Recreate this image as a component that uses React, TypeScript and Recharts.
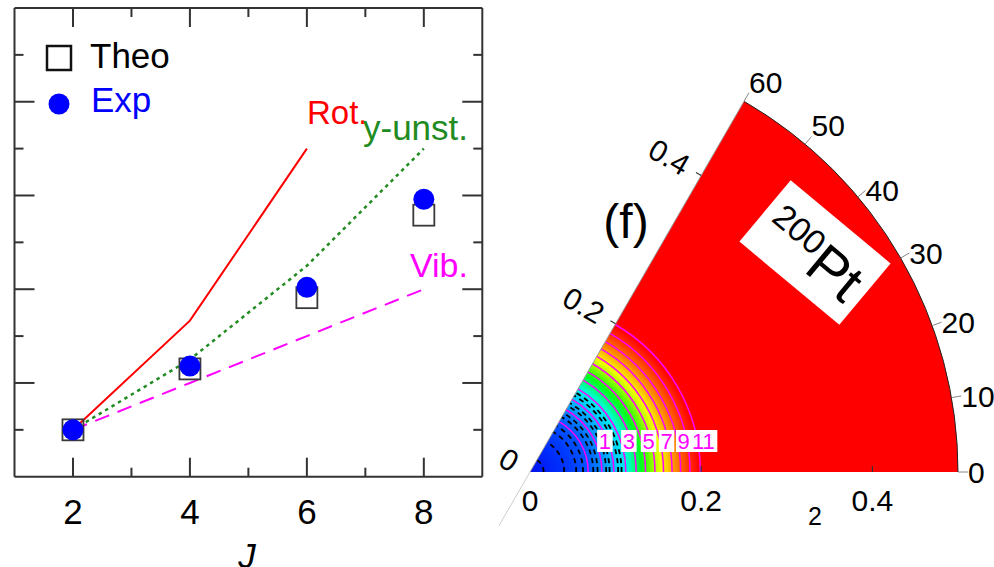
import React from 'react';
import {
  ComposedChart, Line, Scatter, XAxis, YAxis, ReferenceLine,
  RadialBarChart, RadialBar, PolarAngleAxis, PolarRadiusAxis,
} from 'recharts';

// left panel: E(J)/E(2+) ratios
const spins = [2, 4, 6, 8];
const expRatio = [1, 2.36, 4.04, 5.92];
const theoRatio = [1, 2.3, 3.82, 5.58];
const rotRatio = [1, 3.33, 7];
const gammaUnstRatio = [1, 2.5, 4.5, 7];
const vibRatio = [1, 2, 3, 4];
const jTicks = [2, 3, 4, 5, 6, 7, 8];
const rTicks = [1, 2, 3, 4, 5, 6, 7, 8, 9];

// right panel: beta-gamma plane
const gammaMax = 60;
const gammaTicks = [0, 10, 20, 30, 40, 50, 60];
const betaMax = 0.5;
const betaTicks = [0, 0.2, 0.4];
const posContourLevel = [0, 1, 2, 3, 4, 5, 6, 7, 8, 9, 10, 11];
const posContourBeta = [0.068, 0.084, 0.098, 0.112, 0.124, 0.135, 0.146, 0.156, 0.166, 0.176, 0.187, 0.199];
const negContourBeta = [0.016, 0.04, 0.054, 0.062, 0.074, 0.079, 0.089, 0.093, 0.103, 0.107];

// colour map of the surface (beta -> colour)
const stopBeta = [0, 0.045, 0.068, 0.085, 0.1, 0.111, 0.116, 0.123, 0.13, 0.138, 0.146, 0.153, 0.16, 0.168, 0.177, 0.186, 0.196, 0.203, 0.5];
const stopColor = ['#0010f0', '#0038ff', '#0058ff', '#0090ff', '#00c8ff', '#00eef0', '#00ffc0', '#00ff70', '#00ff20', '#50ff00', '#b0ff00', '#f0ff00', '#ffd000', '#ff9800', '#ff6000', '#ff3000', '#ff0800', '#ff0000', '#ff0000'];

const FONT = '"Liberation Sans", Arial, Helvetica, sans-serif';
const FRAME = '#333';

const pts = (ys: number[]) => ys.map((R, i) => ({ J: spins[i], R }));

const bottomTick = (p: any) => {
  const major = p.payload.value % 2 === 0;
  return (
    <g>
      <line x1={p.x} x2={p.x} y1={p.y} y2={p.y - (major ? 19 : 9)} stroke={FRAME} strokeWidth={2} />
      {major && <text x={p.x} y={p.y + 47} textAnchor="middle" fontSize={35} fill="#000">{p.payload.value}</text>}
    </g>
  );
};
const topTick = (p: any) => {
  const major = p.payload.value % 2 === 0;
  return <line x1={p.x} x2={p.x} y1={p.y} y2={p.y + (major ? 19 : 9)} stroke={FRAME} strokeWidth={2} />;
};
const leftTick = (p: any) => {
  const major = p.payload.value % 2 === 0;
  return <line x1={p.x} x2={p.x + (major ? 20 : 9)} y1={p.y} y2={p.y} stroke={FRAME} strokeWidth={2} />;
};
const rightTick = (p: any) => {
  const major = p.payload.value % 2 === 0;
  return <line x1={p.x} x2={p.x - (major ? 20 : 9)} y1={p.y} y2={p.y} stroke={FRAME} strokeWidth={2} />;
};

const theoShape = (p: any) => (
  <rect x={p.cx - 10.5} y={p.cy - 10.5} width={21} height={21} fill="none" stroke="#3a3a3a" strokeWidth={1.8} />
);
const expShape = (p: any) => <circle cx={p.cx} cy={p.cy} r={10.5} fill="#0000ff" />;

function RatioChart() {
  const frame = { stroke: FRAME, strokeWidth: 2 };
  return (
    <ComposedChart width={500} height={567} margin={{ top: 7, right: 16.7, bottom: 89.3, left: 13.5 }}>
      <XAxis type="number" dataKey="J" domain={[1, 9]} ticks={jTicks} interval={0} height={1}
        tickLine={false} tickSize={0} tickMargin={0} tick={bottomTick} axisLine={frame} allowDataOverflow />
      <XAxis xAxisId="top" orientation="top" type="number" dataKey="J" domain={[1, 9]} ticks={jTicks} interval={0}
        height={1} tickLine={false} tickSize={0} tickMargin={0} tick={topTick} axisLine={frame} allowDataOverflow />
      <YAxis type="number" domain={[0, 10]} ticks={rTicks} interval={0} width={1}
        tickLine={false} tickSize={0} tickMargin={0} tick={leftTick} axisLine={frame} allowDataOverflow />
      <YAxis yAxisId="right" orientation="right" type="number" domain={[0, 10]} ticks={rTicks} interval={0} width={1}
        tickLine={false} tickSize={0} tickMargin={0} tick={rightTick} axisLine={frame} allowDataOverflow />
      <Scatter data={pts(theoRatio)} dataKey="R" shape={theoShape} isAnimationActive={false} />
      <Scatter data={pts(expRatio)} dataKey="R" shape={expShape} isAnimationActive={false} />
      <Line data={pts(rotRatio)} dataKey="R" type="linear" stroke="#ff0000" strokeWidth={2} dot={false} isAnimationActive={false} />
      <Line data={pts(gammaUnstRatio)} dataKey="R" type="linear" stroke="#228b22" strokeWidth={2.5}
        strokeDasharray="3.5 4" dot={false} isAnimationActive={false} />
      <Line data={pts(vibRatio)} dataKey="R" type="linear" stroke="#ff00ff" strokeWidth={2}
        strokeDasharray="15 9" dot={false} isAnimationActive={false} />
    </ComposedChart>
  );
}

const RAD = Math.PI / 180;
const polar = (cx: number, cy: number, r: number, a: number) => [cx + r * Math.cos(a * RAD), cy - r * Math.sin(a * RAD)];
const arcPath = (cx: number, cy: number, r: number, a0: number, a1: number) => {
  const [x0, y0] = polar(cx, cy, r, a0);
  const [x1, y1] = polar(cx, cy, r, a1);
  return `M${x0},${y0}A${r},${r} 0 0 0 ${x1},${y1}`;
};

const wedgeShape = (p: any) => {
  const { cx, cy, outerRadius, startAngle, endAngle } = p;
  const [x0, y0] = polar(cx, cy, outerRadius, startAngle);
  const [x1, y1] = polar(cx, cy, outerRadius, endAngle);
  return (
    <g>
      <defs>
        <radialGradient id="betaFill" gradientUnits="userSpaceOnUse" cx={cx} cy={cy} r={outerRadius}>
          {stopBeta.map((b, i) => <stop key={i} offset={b / betaMax} stopColor={stopColor[i]} />)}
        </radialGradient>
      </defs>
      <path d={`M${cx},${cy}L${x0},${y0}A${outerRadius},${outerRadius} 0 0 0 ${x1},${y1}Z`} fill="url(#betaFill)" />
      <path d={arcPath(cx, cy, outerRadius, startAngle, endAngle)} fill="none" stroke="#222" strokeWidth={1} />
    </g>
  );
};

function WedgeChart() {
  return (
    <RadialBarChart width={994} height={567} cx={530} cy={472} innerRadius={0} outerRadius={428}
      startAngle={0} endAngle={60} data={[{ name: 'g', gamma: gammaMax }]} barCategoryGap={0} margin={{ top: 0, right: 0, bottom: 0, left: 0 }}>
      <PolarAngleAxis type="number" domain={[0, gammaMax]} ticks={gammaTicks} tickCount={7} tickSize={10}
        axisLine={false} tickLine={{ stroke: '#888' }} tick={{ fontSize: 30, fill: '#000' }} />
      <PolarRadiusAxis type="category" dataKey="name" tick={false} axisLine={false} />
      <RadialBar dataKey="gamma" shape={wedgeShape} isAnimationActive={false} />
    </RadialBarChart>
  );
}

type Contour = { beta: number; neg: boolean; level: number };
const contours: Contour[] = [
  ...negContourBeta.map((beta) => ({ beta, neg: true, level: -1 })),
  ...posContourBeta.map((beta, i) => ({ beta, neg: false, level: posContourLevel[i] })),
].sort((a, b) => a.beta - b.beta);
const labelled = contours.filter((c) => !c.neg && c.level % 2 === 1);

const fmtBeta = (v: number) => String(Math.round(v * 10) / 10);

// ReferenceLine from origin to (beta, 0): the library gives the pixel ends, drawn round the origin
const contourArc = (c: Contour) => (p: any) => {
  const r = p.x2 - p.x1;
  const d = arcPath(p.x1, p.y1, r, 0, gammaMax);
  if (c.neg) return <path d={d} fill="none" stroke="#000" strokeWidth={1.8} strokeDasharray="5 4" />;
  return <path d={d} fill="none" stroke="#ff00ff" strokeWidth={1.5} />;
};
const contourLabel = (c: Contour) => (p: any) => {
  const txt = String(c.level);
  const w = txt.length * 12.5 + 3;
  const lx = p.x2 + 3;
  return (
    <g>
      <rect x={lx - w / 2} y={p.y1 - 42} width={w} height={22} fill="#fff" />
      <text x={lx} y={p.y1 - 23} textAnchor="middle" fontSize={22} fill="#ff00ff">{txt}</text>
    </g>
  );
};
// gamma = 60 deg edge and its beta labels
const edgeLine = (p: any) => {
  const r = p.x2 - p.x1;
  const [ex, ey] = polar(p.x1, p.y1, r, gammaMax);
  const [bx, by] = polar(p.x1, p.y1, 62, gammaMax + 180);
  return (
    <g>
      <line x1={p.x1} y1={p.y1} x2={ex} y2={ey} stroke="#999" strokeWidth={1} />
      <line x1={p.x1} y1={p.y1} x2={bx} y2={by} stroke="#ccc" strokeWidth={1} />
    </g>
  );
};
const edgeTick = (v: number) => (p: any) => {
  const r = p.x2 - p.x1;
  const [x, y] = polar(p.x1, p.y1, r, gammaMax);
  return (
    <g transform={`rotate(${90 - gammaMax}, ${x}, ${y})`}>
      {v > 0 && <line x1={x} x2={x - 6} y1={y} y2={y} stroke="#333" strokeWidth={1.2} />}
      <text x={x - 16} y={y + 10.5} textAnchor="end" fontSize={30} fill="#000">{fmtBeta(v)}</text>
    </g>
  );
};

const baseTick = (p: any) => {
  const v = p.payload.value;
  return (
    <g>
      {v > 0 && <line x1={p.x} x2={p.x} y1={p.y} y2={p.y - 6} stroke="#333" strokeWidth={1.2} />}
      <text x={p.x} y={p.y + 39} textAnchor="middle" fontSize={30} fill="#000">{fmtBeta(v)}</text>
    </g>
  );
};

function ContourChart() {
  const data = contours.map((c) => ({ beta: c.beta, y: 0 }));
  return (
    <ComposedChart width={994} height={567} data={data} margin={{ top: 44, right: 36, bottom: 94, left: 530 }}>
      <XAxis type="number" dataKey="beta" domain={[0, betaMax]} ticks={betaTicks} interval={0} height={1}
        tickLine={false} tickSize={0} tickMargin={0} tick={baseTick} axisLine={false} allowDataOverflow />
      <YAxis type="number" dataKey="y" domain={[0, betaMax]} hide allowDataOverflow />
      {contours.map((c, i) => (
        <ReferenceLine key={'a' + i} segment={[{ x: 0, y: 0 }, { x: c.beta, y: 0 }]} ifOverflow="visible" shape={contourArc(c)} />
      ))}
      {labelled.map((c, i) => (
        <ReferenceLine key={'l' + i} segment={[{ x: 0, y: 0 }, { x: c.beta, y: 0 }]} ifOverflow="visible" shape={contourLabel(c)} />
      ))}
      <ReferenceLine segment={[{ x: 0, y: 0 }, { x: betaMax, y: 0 }]} ifOverflow="visible" shape={edgeLine} />
      {betaTicks.map((b) => (
        <ReferenceLine key={'t' + b} segment={[{ x: 0, y: 0 }, { x: b, y: 0 }]} ifOverflow="visible" shape={edgeTick(b)} />
      ))}
    </ComposedChart>
  );
}

export default function App() {
  return (
    <div style={{ position: 'absolute', left: 0, top: 0, width: 994, height: 567, background: '#fff', fontFamily: FONT, overflow: 'hidden' }}>
      <div style={{ position: 'absolute', left: 0, top: 0 }}><RatioChart /></div>
      <div style={{ position: 'absolute', left: 0, top: 0 }}><WedgeChart /></div>
      <div style={{ position: 'absolute', left: 0, top: 0 }}><ContourChart /></div>
      <svg width={994} height={567} style={{ position: 'absolute', left: 0, top: 0, pointerEvents: 'none' }} fontFamily={FONT}>
        <rect x={47} y={46} width={24} height={24} fill="none" stroke="#111" strokeWidth={2.5} />
        <text x={90} y={68} fontSize={35} fill="#000">Theo</text>
        <circle cx={59} cy={104} r={10.5} fill="#0000ff" />
        <text x={91} y={112} fontSize={35} fill="#0000ff">Exp</text>
        <text x={307} y={124} fontSize={33} fill="#ff0000">Rot.</text>
        <text x={363} y={140} fontSize={35} fill="#228b22">y-unst.</text>
        <text x={410} y={277} fontSize={34} fill="#ff00ff">Vib.</text>
        <text x={247} y={568} fontSize={35} fontStyle="italic" textAnchor="middle" fill="#000">J</text>
        <text x={626} y={238} fontSize={48} textAnchor="middle" fill="#000">(f)</text>
        <text x={815} y={525} fontSize={25} textAnchor="middle" fill="#000">2</text>
        <g transform="translate(815,252.5) rotate(39.8)">
          <rect x={-65} y={-40} width={130} height={80} fill="#fff" />
          <text x={-55} y={4} fontSize={34} fill="#000">200</text>
          <text x={2} y={22} fontSize={56} fill="#000">Pt</text>
        </g>
      </svg>
    </div>
  );
}
